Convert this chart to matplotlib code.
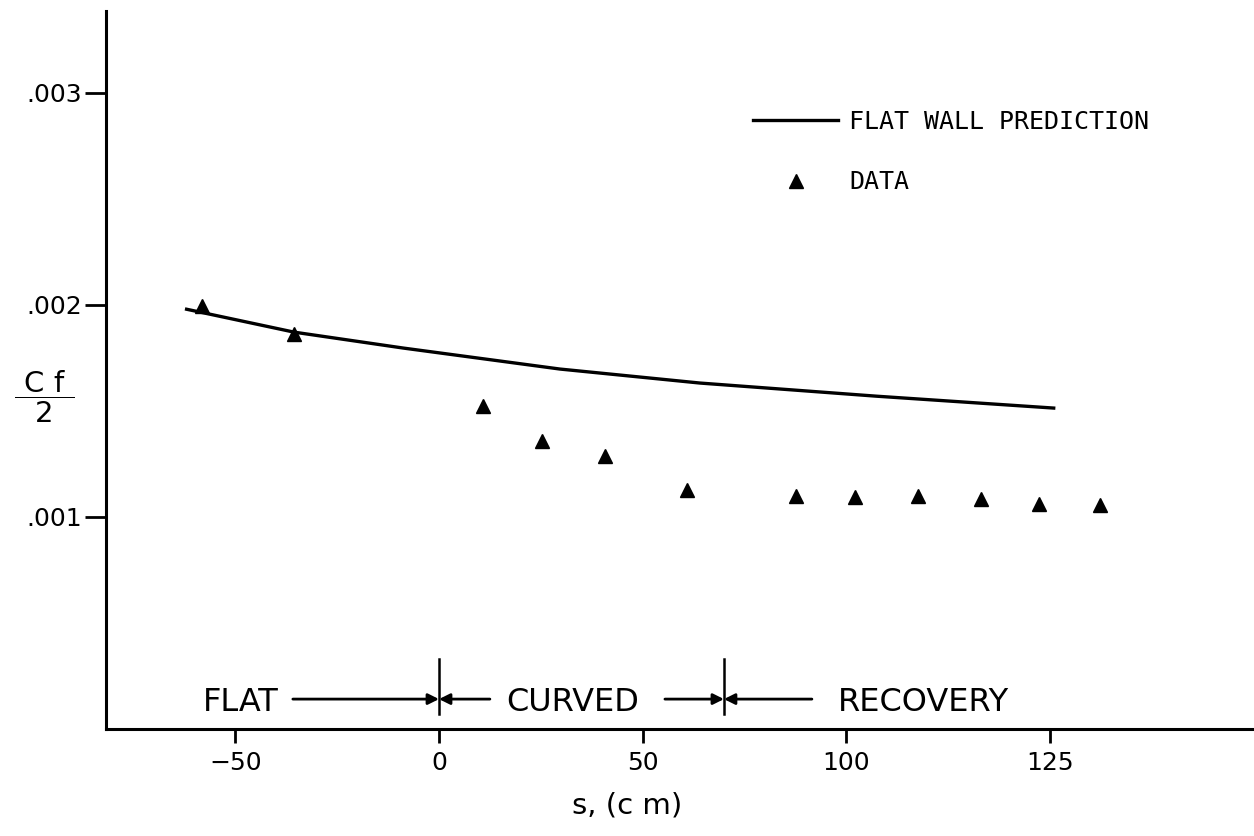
"""
Skin friction coefficient along the test wall: flat wall prediction vs data,
with the flat / curved / recovery sections marked along s.

Output:
    out.png
"""

import matplotlib
matplotlib.use("Agg")
import matplotlib.pyplot as plt


# measured Cf/2 (triangles)
DATA_S = [-58.1, -35.7, 10.7, 25.2, 40.8, 60.8, 87.6, 102.1, 117.6, 133.1, 147.5, 162.4]
DATA_CF2 = [0.001992, 0.001860, 0.001521, 0.001356, 0.001286, 0.001127,
            0.001100, 0.001095, 0.001100, 0.001083, 0.001061, 0.001057]

# flat wall prediction (solid line)
PRED_S = [-62.0, -35.6, -8.8, 29.7, 64.1, 107.5, 151.0]
PRED_CF2 = [0.001979, 0.001871, 0.001796, 0.001697, 0.001631, 0.001569, 0.001513]

X_TICKS = [-50, 0, 50, 100, 150]
X_TICK_LABELS = ["\u221250", "0", "50", "100", "125"]
Y_TICKS = [0.001, 0.002, 0.003]
Y_TICK_LABELS = [".001", ".002", ".003"]

# section boundaries along s (cm)
SECTION_BOUNDS = [0, 70]
SECTION_NAMES = ["FLAT", "CURVED", "RECOVERY"]

FIG_W, FIG_H = 1254, 836


def make_chart() -> None:
    fig = plt.figure(figsize=(FIG_W / 100, FIG_H / 100), dpi=100)
    ax = fig.add_axes([106 / FIG_W, 107 / FIG_H, 1 - 106 / FIG_W, 718 / FIG_H])

    ax.plot(PRED_S, PRED_CF2, color="black", lw=2.4,
            label="FLAT WALL PREDICTION")
    ax.plot(DATA_S, DATA_CF2, ls="none", marker="^", ms=10,
            color="black", label="DATA")

    ax.set_xlim(-81.8, 200.2)
    ax.set_ylim(0, 0.003385)

    ax.set_xticks(X_TICKS)
    ax.set_xticklabels(X_TICK_LABELS)
    ax.set_yticks(Y_TICKS)
    ax.set_yticklabels(Y_TICK_LABELS)

    for side in ["top", "right"]:
        ax.spines[side].set_visible(False)
    for side in ["left", "bottom"]:
        ax.spines[side].set_linewidth(2.2)

    ax.tick_params(axis="y", direction="out", length=15, width=2,
                   pad=2, labelsize=18)
    ax.tick_params(axis="x", direction="out", length=10, width=2,
                   pad=6, labelsize=18)

    ax.set_xlabel("s, (c m)", fontsize=21, va="center")
    ax.xaxis.set_label_coords(0.454, -0.107)
    ax.set_ylabel(r"$\dfrac{\mathrm{\ C\ f\ }}{\mathrm{2}}$", fontsize=21,
                  rotation=0, ha="center", va="center")
    ax.yaxis.set_label_coords(-0.054, 0.462)

    ax.legend(loc="upper left",
              bbox_to_anchor=(753 / FIG_W, (FIG_H - 110) / FIG_H),
              bbox_transform=fig.transFigure, frameon=False,
              prop={"family": "DejaVu Sans Mono", "size": 18},
              handlelength=3.4, handletextpad=0.45, labelspacing=1.45,
              borderpad=0, borderaxespad=0, numpoints=1)

    # section markers along the bottom
    y_mark = 0.000141
    for b in SECTION_BOUNDS:
        ax.axvline(b, ymin=0.021, ymax=0.097, color="black", lw=1.8)

    b0, b1 = SECTION_BOUNDS
    arrow = dict(arrowstyle="-|>", lw=2, color="black",
                 mutation_scale=16, shrinkA=0, shrinkB=0)
    ax.annotate("", xy=(b0, y_mark), xytext=(b0 - 35.9, y_mark), arrowprops=arrow)
    ax.annotate("", xy=(b0, y_mark), xytext=(b0 + 12.5, y_mark), arrowprops=arrow)
    ax.annotate("", xy=(b1, y_mark), xytext=(b1 - 14.5, y_mark), arrowprops=arrow)
    ax.annotate("", xy=(b1, y_mark), xytext=(b1 + 21.6, y_mark), arrowprops=arrow)

    text_x = [b0 - 48.7, b0 + 32.8, b1 + 49.0]
    for x, name in zip(text_x, SECTION_NAMES):
        ax.text(x, y_mark, name, ha="center", va="center_baseline", fontsize=23)

    fig.savefig("out.png", dpi=100, facecolor="white")
    plt.close(fig)


def main() -> None:
    make_chart()


if __name__ == "__main__":
    main()
